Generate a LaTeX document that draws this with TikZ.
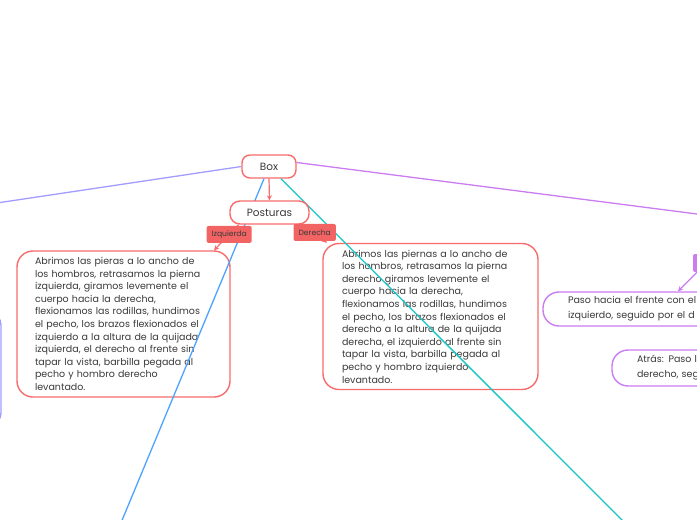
\documentclass[tikz,border=0pt]{standalone}
\usepackage{fontspec}
\setmainfont{Poppins}
\usetikzlibrary{positioning,arrows.meta}
\definecolor{rojoborde}{HTML}{F86B6B}
\definecolor{rojoetiq}{HTML}{F26363}
\definecolor{textogris}{HTML}{3A3A3A}
\definecolor{morado}{HTML}{CB7CF0}
\definecolor{lavanda}{HTML}{A29CFF}
\definecolor{azul}{HTML}{4DA3FF}
\definecolor{turquesa}{HTML}{19C6C6}
\begin{document}
\begin{tikzpicture}[x=1pt, y=-1pt, >={Stealth[length=5pt,width=5pt]},
  tema/.style={draw=rojoborde, line width=1.4pt, fill=white, rounded corners=8pt, text=textogris, font=\fontsize{10.5}{12}\selectfont, minimum height=23pt},
  hoja/.style={draw=rojoborde, line width=1.4pt, fill=white, rounded corners=16pt, text=textogris, font=\fontsize{9.5}{12.6}\selectfont, align=left, text width=177pt, inner xsep=18pt, minimum height=146pt},
  etiqueta/.style={fill=rojoetiq, rounded corners=2pt, text=textogris, font=\fontsize{7.6}{8}\selectfont, inner xsep=5pt, minimum height=17pt},
  pasobox/.style={draw=morado, line width=1.4pt, fill=white, rounded corners=16pt, text=textogris, font=\fontsize{9.5}{15}\selectfont, align=left, inner xsep=25pt}]
\useasboundingbox (0,0) rectangle (697,520);
\clip (0,0) rectangle (697,520);

% Cajas de texto de las posturas
\node[hoja] (izqtexto) at (123.5,324) {Abrimos las pieras a lo ancho de\\ los hombros, retrasamos la pierna\\ izquierda, giramos levemente el\\ cuerpo hacia la derecha,\\ flexionamos las rodillas, hundimos\\ el pecho, los brazos flexionados el\\ izquierdo a la altura de la quijada\\ izquierda, el derecho al frente sin\\ tapar la vista, barbilla pegada al\\ pecho y hombro derecho\\ levantado.};
\node[hoja, inner xsep=19pt] (dertexto) at (430.5,316.5) {Abrimos las piernas a lo ancho de\\ los hombros, retrasamos la pierna\\ derecho giramos levemente el\\ cuerpo hacia la derecha,\\ flexionamos las rodillas, hundimos\\ el pecho, los brazos flexionados el\\ derecho a la altura de la quijada\\ derecha, el izquierdo al frente sin\\ tapar la vista, barbilla pegada al\\ pecho y hombro izquierdo\\ levantado.};

% Ramas que salen del cuadro
\node[draw=lavanda, line width=1.4pt, rounded corners=12pt, minimum width=121pt, minimum height=112pt] (izqfuera) at (-59.5,369) {};
\node[pasobox, text width=197pt, minimum height=34pt] (pasofrente) at (666.5,309) {Paso hacia el frente con el\\ izquierdo, seguido por el d};
\node[pasobox, text width=190pt, minimum height=36pt] (atras) at (732,368) {Atrás: Paso l\\ derecho, seg};
\node[fill=morado, rounded corners=2pt, minimum width=32pt, minimum height=18pt] (pasos) at (709,263) {};

% Nodo central
\node[tema, minimum width=54pt] (box) at (269,166.5) {Box};

% Conectores largos
\coordinate (finizq) at (-40,208.5);
\coordinate (finder) at (760,222.1);
\coordinate (finazul) at (118,530);
\coordinate (finturq) at (632,530);
\draw[lavanda, line width=1.3pt] (box.west) -- (finizq);
\draw[morado, line width=1.3pt] ([yshift=4pt]box.east) -- (finder);
\draw[azul, line width=1.3pt] ([xshift=-5pt]box.south) -- (finazul);
\draw[turquesa, line width=1.3pt] ([xshift=12pt]box.south) -- (finturq);
\draw[->, morado, line width=1.2pt] ([xshift=-12pt]pasos.south) -- ([xshift=11.5pt]pasofrente.north);

% Posturas y sus etiquetas
\node[tema, minimum width=79pt, rounded corners=10pt] (posturas) at (269.5,212.5) {Posturas};
\draw[->, rojoborde, line width=1.2pt] (box.south) -- (posturas.north);
\draw[->, rojoborde, line width=1.2pt] ([xshift=-31pt]posturas.south) -- ([xshift=90.5pt]izqtexto.north) node[etiqueta, pos=0.38] {Izquierda};
\draw[->, rojoborde, line width=1.2pt] ([xshift=36pt]posturas.south) -- ([xshift=-103.5pt]dertexto.north) node[etiqueta, pos=0.43] {Derecha};
\end{tikzpicture}
\end{document}
